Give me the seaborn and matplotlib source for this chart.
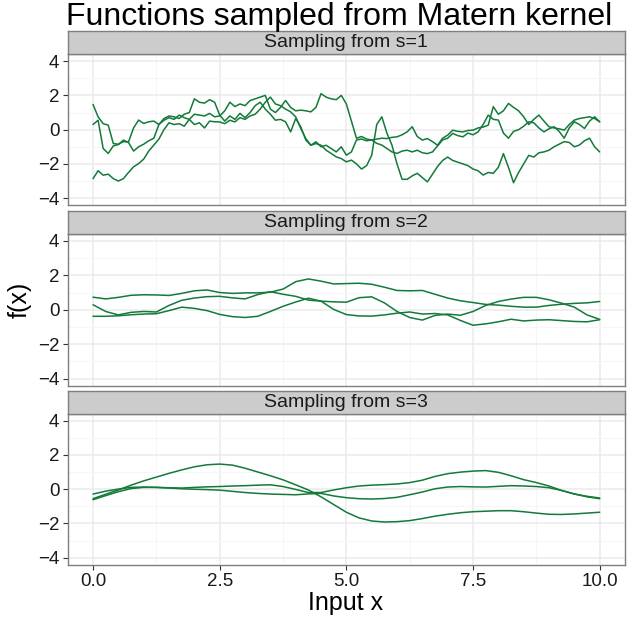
import numpy as np
import pandas as pd
import matplotlib
matplotlib.use('Agg')
import matplotlib.pyplot as plt
import seaborn as sns

# sample locations
x_rough = np.round(np.arange(0, 101) / 10, 2)
x_smooth = np.arange(0, 41) * 0.25

# s=1 (rough) draws
s1_a = [1.47, 0.75, 0.35, 0.26, -0.81, -0.85, -0.7, -0.72, 0.1, 0.56,
        0.36, 0.46, 0.5, 0.3, 0.65, 0.8, 0.75, 0.65, 0.9, 1.0,
        1.8, 1.6, 1.55, 1.75, 1.6, 0.85, 0.5, 0.8, 0.6, 0.95,
        0.7, 1.0, 1.4, 1.6, 1.2, 0.9, 0.55, 0.6, 0.46, -0.13,
        0.65, 0.17, -0.61, -0.91, -0.81, -0.91, -1.2, -1.39, -1.59, -1.69,
        -1.88, -1.78, -2.0, -2.3, -2.1, -1.5, 0.3, 0.75, -0.2, -0.9,
        -2.0, -2.9, -2.9, -2.7, -2.55, -2.8, -3.05, -2.6, -2.15, -1.8,
        -1.6, -1.8, -1.9, -2.0, -2.1, -2.3, -2.4, -2.65, -2.5, -2.55,
        -2.2, -1.4, -2.2, -3.1, -2.5, -2.0, -1.5, -1.6, -1.35, -1.3,
        -1.2, -1.0, -0.85, -0.7, -0.75, -1.0, -0.9, -0.65, -0.5, -1.0,
        -1.3]
s1_b = [0.3, 0.55, -1.1, -1.39, -0.95, -0.87, -0.61, -0.75, -1.25, -1.0,
        -0.85, -0.65, -0.5, 0.3, 0.55, 0.7, 0.6, 0.85, 0.7, 0.6,
        0.9, 0.85, 0.8, 0.95, 0.75, 0.8, 1.1, 1.6, 1.35, 1.5,
        1.4, 1.7, 1.8, 1.9, 2.0, 1.2, 1.0, 1.3, 1.7, 1.3,
        1.1, 1.14, 1.1, 1.04, 1.3, 2.1, 1.9, 1.8, 1.75, 2.0,
        1.5, 0.5, -0.5, -0.4, -0.55, -0.6, -0.8, -0.9, -1.1, -1.3,
        -1.39, -1.25, -1.2, -1.3, -1.2, -1.35, -1.4, -1.3, -0.95, -0.6,
        -0.5, -0.22, -0.35, -0.42, -0.2, -0.3, -0.13, 0.3, 0.85, 0.6,
        0.56, -0.2, -0.5, -0.1, 0.0, 0.2, 0.46, 0.4, 0.1, -0.13,
        0.05, 0.17, -0.1, -0.5, 0.1, 0.46, 0.3, 0.07, 0.5, 0.75,
        0.46]
s1_c = [-2.86, -2.4, -2.66, -2.6, -2.86, -3.0, -2.86, -2.5, -2.17, -1.98,
        -1.72, -1.25, -0.9, -0.55, 0.0, 0.4, 0.3, 0.35, 0.2, 0.6,
        0.3, 0.4, 0.1, 0.5, 0.46, 0.45, 0.35, 0.55, 0.45, 0.7,
        0.6, 0.8, 0.9, 1.2, 1.6, 1.9, 1.5, 1.4, 1.2, 1.04,
        0.75, 0.07, -0.52, -0.91, -0.71, -1.0, -0.91, -1.1, -1.3, -1.0,
        -1.49, -1.3, -0.6, -0.55, -0.65, -0.6, -0.55, -0.5, -0.52, -0.45,
        -0.42, -0.3, -0.13, 0.17, -0.4, -0.61, -0.52, -0.7, -0.91, -0.5,
        -0.32, -0.03, -0.1, -0.13, -0.05, -0.03, 0.1, 0.15, 0.26, 1.34,
        0.9, 1.1, 1.53, 1.3, 1.1, 0.75, 0.3, 0.6, 0.85, 0.5,
        0.17, 0.1, 0.05, -0.03, 0.3, 0.56, 0.65, 0.7, 0.75, 0.65,
        0.46]

# s=2 draws
s2_a = [0.73, 0.63, 0.72, 0.84, 0.87, 0.86, 0.83, 0.95, 1.1, 1.15,
        1.0, 0.95, 0.98, 0.98, 1.02, 1.2, 1.63, 1.79, 1.66, 1.5,
        1.52, 1.54, 1.48, 1.31, 1.12, 1.1, 1.12, 0.9, 0.68, 0.52,
        0.42, 0.31, 0.27, 0.2, 0.15, 0.15, 0.25, 0.32, 0.37, 0.4,
        0.48]
s2_b = [0.29, -0.1, -0.3, -0.15, -0.1, -0.13, 0.25, 0.55, 0.68, 0.76,
        0.78, 0.69, 0.63, 0.88, 1.05, 0.9, 0.78, 0.56, 0.5, 0.46,
        0.44, 0.7, 0.75, 0.4, -0.1, -0.45, -0.6, -0.33, -0.25, -0.32,
        -0.1, 0.25, 0.48, 0.62, 0.72, 0.72, 0.58, 0.38, 0.15, -0.3,
        -0.56]
s2_c = [-0.38, -0.38, -0.35, -0.29, -0.25, -0.23, -0.05, 0.15, 0.08, -0.05,
        -0.27, -0.4, -0.45, -0.38, -0.1, 0.2, 0.45, 0.67, 0.5, 0.02,
        -0.28, -0.36, -0.37, -0.3, -0.2, -0.13, -0.25, -0.22, -0.3, -0.62,
        -0.9, -0.82, -0.7, -0.55, -0.65, -0.6, -0.58, -0.63, -0.68, -0.7,
        -0.58]

# s=3 draws
s3_a = [-0.56, -0.3, -0.05, 0.23, 0.48, 0.7, 0.92, 1.12, 1.3, 1.42,
        1.46, 1.4, 1.22, 1.0, 0.78, 0.54, 0.25, -0.05, -0.45, -0.9,
        -1.35, -1.68, -1.86, -1.92, -1.9, -1.84, -1.72, -1.58, -1.47, -1.38,
        -1.32, -1.29, -1.26, -1.26, -1.32, -1.4, -1.47, -1.48, -1.45, -1.4,
        -1.35]
s3_b = [-0.29, -0.12, 0.0, 0.1, 0.12, 0.1, 0.08, 0.06, 0.1, 0.13,
        0.15, 0.18, 0.2, 0.23, 0.25, 0.15, -0.02, -0.2, -0.2, -0.05,
        0.08, 0.18, 0.23, 0.26, 0.3, 0.38, 0.52, 0.74, 0.9, 0.99,
        1.05, 1.08, 0.98, 0.78, 0.55, 0.38, 0.18, -0.08, -0.28, -0.45,
        -0.56]
s3_c = [-0.62, -0.38, -0.15, 0.03, 0.1, 0.1, 0.06, 0.02, -0.01, -0.03,
        -0.06, -0.13, -0.2, -0.25, -0.29, -0.31, -0.33, -0.28, -0.25, -0.4,
        -0.5, -0.56, -0.58, -0.55, -0.48, -0.33, -0.17, 0.02, 0.12, 0.15,
        0.13, 0.12, 0.16, 0.2, 0.18, 0.15, 0.08, -0.08, -0.29, -0.42,
        -0.52]

strip_labels = ['Sampling from s=1', 'Sampling from s=2', 'Sampling from s=3']
x_ticks = [0, 2.5, 5, 7.5, 10]
x_tick_labels = ['0.0', '2.5', '5.0', '7.5', '10.0']
y_ticks = [-4, -2, 0, 2, 4]


def long_frame(xs, curves):
    parts = []
    for i, ys in enumerate(curves):
        parts.append(pd.DataFrame({'x': xs, 'f': ys, 'draw': i}))
    return pd.concat(parts, ignore_index=True)


panels = [
    long_frame(x_rough, [s1_a, s1_b, s1_c]),
    long_frame(x_smooth, [s2_a, s2_b, s2_c]),
    long_frame(x_smooth, [s3_a, s3_b, s3_c]),
]

sns.set_style('white')
plt.rcParams['font.family'] = ['Liberation Sans', 'DejaVu Sans']

green = '#137a3a'
border = '#7f7f7f'
W, H = 636, 617
fig = plt.figure(figsize=(W / 100, H / 100), dpi=100)

left, right = 67.7, 625
# strip top, strip bottom / panel top, panel bottom (pixels from top)
boxes = [(30.7, 54.3, 205), (210.7, 234, 385.5), (390.7, 413.7, 564.5)]

for k, (df, (st, sb, pb)) in enumerate(zip(panels, boxes)):
    ax = fig.add_axes([left / W, 1 - pb / H, (right - left) / W, (pb - sb) / H])
    sns.lineplot(data=df, x='x', y='f', units='draw', estimator=None,
                 color=green, lw=1.1, ax=ax, legend=False)
    ax.set_xlim(-0.5, 10.5)
    ax.set_ylim(-4.4, 4.4)
    ax.set_xticks(x_ticks)
    ax.set_xticks([1.25, 3.75, 6.25, 8.75], minor=True)
    ax.set_yticks(y_ticks)
    ax.set_yticks([-3, -1, 1, 3], minor=True)
    ax.grid(which='major', color='#ebebeb', lw=1.1)
    ax.grid(which='minor', color='#f6f6f6', lw=0.8)
    ax.set_axisbelow(True)
    for sp in ax.spines.values():
        sp.set_color(border)
        sp.set_linewidth(1.0)
    ax.tick_params(axis='y', which='major', left=True, length=3.5, width=0.8,
                   color='#333333', labelsize=13.5, labelcolor='#1a1a1a', pad=2.5)
    ax.tick_params(which='minor', length=0)
    if k == 2:
        ax.set_xticklabels(x_tick_labels)
        ax.tick_params(axis='x', which='major', bottom=True, length=3.5, width=0.8,
                       color='#333333', labelsize=13.5, labelcolor='#1a1a1a', pad=2.5)
    else:
        ax.tick_params(axis='x', which='major', bottom=False, labelbottom=False)
    ax.set_xlabel('')
    ax.set_ylabel('')

    sax = fig.add_axes([left / W, 1 - sb / H, (right - left) / W, (sb - st) / H])
    sax.set_facecolor('#cccccc')
    sax.set_xticks([])
    sax.set_yticks([])
    for sp in sax.spines.values():
        sp.set_color(border)
        sp.set_linewidth(1.0)
    sax.text(0.5, 0.5, strip_labels[k], ha='center', va='center',
             fontsize=14, color='#1a1a1a', transform=sax.transAxes)

fig.text(339 / W, 1 - 17.5 / H, 'Functions sampled from Matern kernel',
         ha='center', va='center', fontsize=23, color='black')
fig.text(346 / W, 1 - 603 / H, 'Input x', ha='center', va='center',
         fontsize=18, color='black')
fig.text(20 / W, 1 - 300 / H, 'f(x)', ha='center', va='center',
         rotation=90, fontsize=18, color='black')

fig.savefig('out.png', dpi=100)
